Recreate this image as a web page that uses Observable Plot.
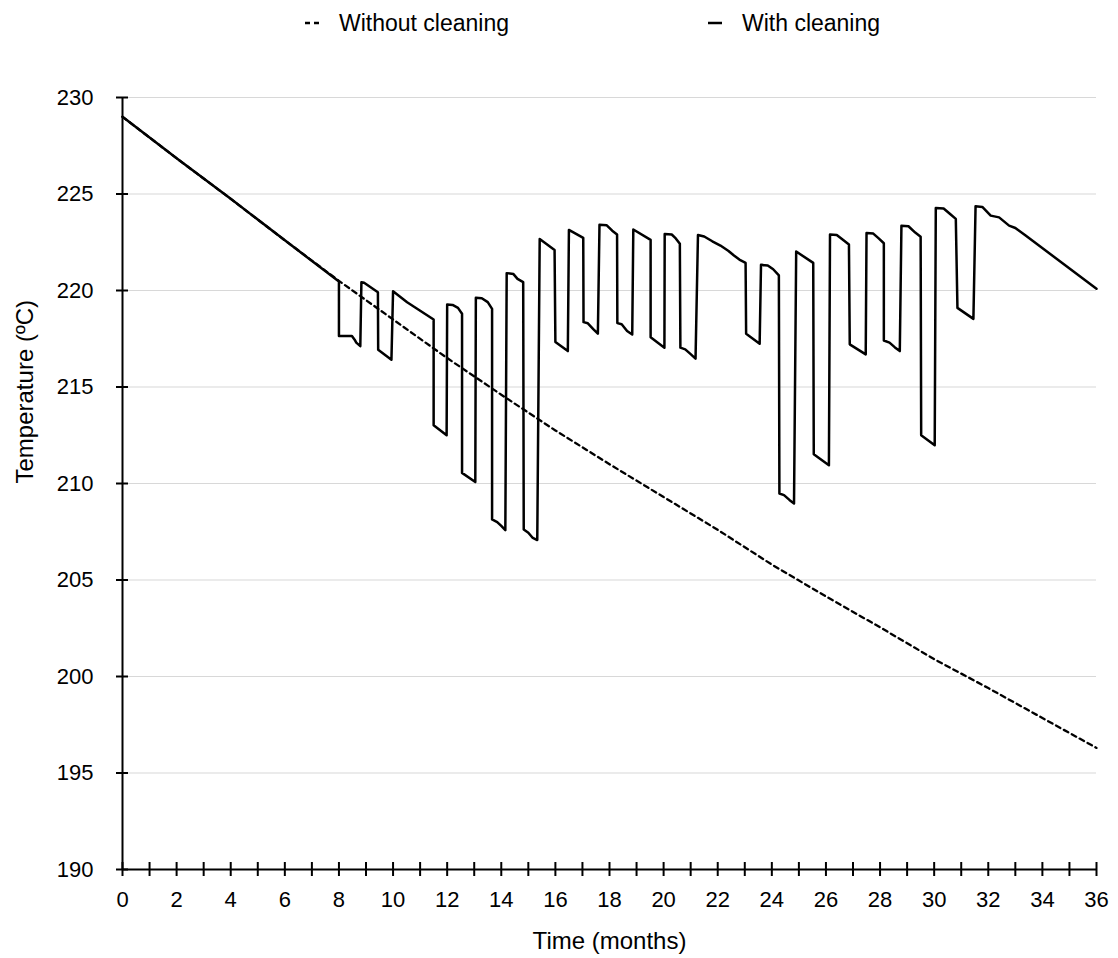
<!DOCTYPE html>
<html><head><meta charset="utf-8">
<script src="https://cdn.jsdelivr.net/npm/d3@7"></script>
<script src="https://cdn.jsdelivr.net/npm/@observablehq/plot@0.6"></script>
<style>
body{margin:0;background:#fff;font-family:"Liberation Sans",Arial,Helvetica,sans-serif;}
#legend{position:relative;height:46px;width:1118px;font-size:23px;color:#000;}
.item{position:absolute;top:0;height:46px;display:flex;align-items:center;white-space:nowrap;}
.item svg{margin-right:20px;}
#chart svg{display:block;}
</style></head><body>
<div id="legend"></div>
<div id="chart"></div>
<script>
// ---- data ----
const seriesNames = ["Without cleaning", "With cleaning"];

const monthsWithout = [0, 2, 4, 6, 8, 10, 12, 14, 16, 18, 20, 22, 24, 26, 28, 30, 32, 34, 36];
const tempWithout   = [229.0, 226.85, 224.75, 222.6, 220.5, 218.5, 216.5, 214.6, 212.75, 211.0, 209.3, 207.6, 205.8, 204.15, 202.55, 200.9, 199.4, 197.85, 196.3];

const monthsWith = [
  0, 2, 4, 6, 8.0, 8.0, 8.48, 8.58, 8.64, 8.79, 8.83, 8.93, 9.44, 9.45, 9.94, 10.0, 10.52, 11.5, 11.5, 11.98,
  12.0, 12.2, 12.4, 12.55, 12.55, 13.04, 13.06, 13.28, 13.5, 13.66, 13.66, 13.85, 14.0, 14.15, 14.2, 14.45, 14.6, 14.81,
  14.83, 15.0, 15.15, 15.33, 15.42, 15.97, 16.0, 16.46, 16.5, 17.03, 17.04, 17.2, 17.4, 17.57, 17.63, 17.9, 18.1, 18.28,
  18.29, 18.45, 18.65, 18.84, 18.88, 19.52, 19.52, 20.03, 20.04, 20.3, 20.45, 20.6, 20.62, 20.8, 21.0, 21.18, 21.27, 21.5,
  21.8, 22.1, 22.4, 22.6, 22.8, 23.03, 23.05, 23.55, 23.6, 23.85, 24.05, 24.26, 24.28, 24.45, 24.65, 24.82, 24.9, 25.53,
  25.55, 26.11, 26.15, 26.4, 26.65, 26.85, 26.88, 27.47, 27.5, 27.75, 27.95, 28.14, 28.14, 28.35, 28.55, 28.73, 28.79, 29.05,
  29.3, 29.5, 29.52, 30.02, 30.06, 30.35, 30.6, 30.8, 30.86, 31.45, 31.53, 31.78, 32.09, 32.4, 32.77, 33.0, 33.38, 36.0
];
const tempWith = [
  229.0, 226.85, 224.75, 222.6, 220.47, 217.64, 217.64, 217.45, 217.3, 217.12, 220.43, 220.4, 219.91, 216.93, 216.41, 219.96, 219.39, 218.5, 213.02, 212.5,
  219.28, 219.25, 219.1, 218.8, 210.55, 210.08, 219.62, 219.6, 219.4, 219.05, 208.14, 208.0, 207.8, 207.58, 220.9, 220.85, 220.6, 220.43,
  207.62, 207.45, 207.2, 207.07, 222.67, 222.1, 217.33, 216.86, 223.14, 222.73, 218.36, 218.3, 218.0, 217.76, 223.41, 223.38, 223.1, 222.9,
  218.31, 218.25, 217.9, 217.72, 223.16, 222.62, 217.58, 217.04, 222.93, 222.9, 222.7, 222.42, 217.04, 216.95, 216.7, 216.47, 222.88, 222.8,
  222.55, 222.33, 222.05, 221.81, 221.6, 221.43, 217.76, 217.24, 221.33, 221.3, 221.1, 220.78, 209.48, 209.4, 209.15, 208.97, 222.02, 221.43,
  211.52, 210.95, 222.9, 222.88, 222.6, 222.38, 217.21, 216.69, 222.98, 222.95, 222.7, 222.45, 217.41, 217.3, 217.05, 216.86, 223.36, 223.33,
  223.0, 222.79, 212.5, 211.98, 224.28, 224.25, 223.95, 223.71, 219.1, 218.53, 224.36, 224.33, 223.88, 223.79, 223.36, 223.24, 222.85, 220.09
];

const xTicks = [0,1,2,3,4,5,6,7,8,9,10,11,12,13,14,15,16,17,18,19,20,21,22,23,24,25,26,27,28,29,30,31,32,33,34,35,36];
const xTickLabels = [0,2,4,6,8,10,12,14,16,18,20,22,24,26,28,30,32,34,36];
const yTicks = [190,195,200,205,210,215,220,225,230];
const xTitle = "Time (months)";
const yTitle = "Temperature (ºC)";

// ---- legend ----
const legend = document.getElementById("legend");
const legendItems = [
  {name: seriesNames[0], dash: "5,4", left: 305},
  {name: seriesNames[1], dash: null, left: 708}
];
for (const it of legendItems) {
  const div = document.createElement("div");
  div.className = "item";
  div.style.left = it.left + "px";
  div.innerHTML = `<svg width="14" height="6"><line x1="0" y1="3" x2="14" y2="3" stroke="#000" stroke-width="2.5" ${it.dash ? `stroke-dasharray="${it.dash}"` : ""}/></svg><span>${it.name}</span>`;
  legend.appendChild(div);
}

// ---- chart ----
const without = monthsWithout.map((m, i) => ({month: m, temp: tempWithout[i]}));
const withC = monthsWith.map((m, i) => ({month: m, temp: tempWith[i]}));

const chart = Plot.plot({
  width: 1118,
  height: 912,
  marginTop: 51,
  marginBottom: 89,
  marginLeft: 122,
  marginRight: 22,
  style: {fontFamily: '"Liberation Sans", Arial, Helvetica, sans-serif', fontSize: "22px", color: "#000", background: "#fff", overflow: "visible"},
  x: {domain: [0, 36]},
  y: {domain: [190, 230]},
  marks: [
    Plot.gridY(yTicks.filter(v => v > 190), {stroke: "#d8d8d8", strokeOpacity: 1, strokeWidth: 1.2}),
    Plot.line(without, {x: "month", y: "temp", stroke: "#000", strokeWidth: 2.3, strokeDasharray: "5,4"}),
    Plot.line(withC, {x: "month", y: "temp", stroke: "#000", strokeWidth: 2.5, strokeLinejoin: "round"}),
    Plot.ruleX([0], {stroke: "#000", strokeWidth: 2}),
    Plot.ruleY([190], {stroke: "#000", strokeWidth: 2}),
    Plot.ruleX(xTicks, {x: d => d, y1: 190, y2: 190, insetTop: -7, insetBottom: -7, stroke: "#000", strokeWidth: 2}),
    Plot.ruleY(yTicks, {y: d => d, x1: 0, x2: 0, insetLeft: -6, insetRight: -6, stroke: "#000", strokeWidth: 2}),
    Plot.axisX({ticks: xTickLabels, tickSize: 0, tickPadding: 22, fontSize: 22, label: null}),
    Plot.axisY({ticks: yTicks, tickSize: 0, tickPadding: 29, fontSize: 22, label: null}),
    Plot.text([xTitle], {frameAnchor: "bottom", dy: 79, fontSize: 24, fill: "#000"}),
    Plot.text([yTitle], {frameAnchor: "left", dx: -97, rotate: -90, fontSize: 24, fill: "#000"})
  ]
});
document.getElementById("chart").appendChild(chart);
</script>
</body></html>
